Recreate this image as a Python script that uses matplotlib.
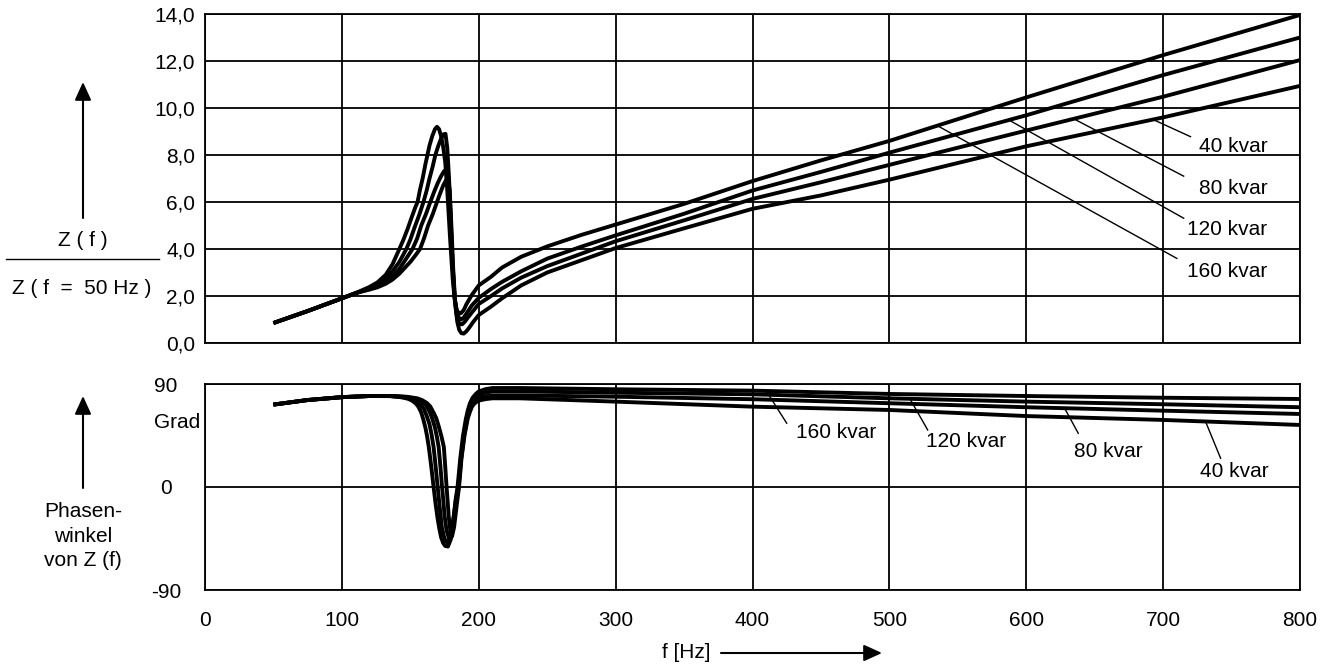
import matplotlib
matplotlib.use("Agg")
import matplotlib.pyplot as plt
from matplotlib.patches import FancyArrowPatch
from matplotlib.lines import Line2D

plt.rcParams['font.family'] = ['Liberation Sans', 'DejaVu Sans']

W, H = 1337, 666

# --- data: impedance ratio Z(f)/Z(50 Hz) ---
f_z160 = [50, 75, 100, 110, 120, 126, 132, 137, 142, 145, 148, 151, 153.5, 155.3, 157, 159, 161, 162.5, 164, 166, 168, 169.5, 171, 172.5, 174, 175.5, 177, 179, 181, 182.5, 184, 185.5, 187, 189, 191, 195, 200, 209, 217, 231, 250, 275, 300, 350, 400, 450, 500, 600, 700, 800]
z160 = [0.85, 1.36, 1.9, 2.12, 2.38, 2.58, 2.9, 3.35, 4.0, 4.4, 4.85, 5.35, 5.75, 6.0, 6.5, 7.0, 7.6, 8.0, 8.4, 8.8, 9.1, 9.2, 9.1, 8.8, 8.35, 7.7, 6.5, 4.5, 2.7, 1.8, 1.4, 1.25, 1.27, 1.4, 1.65, 2.05, 2.45, 2.82, 3.21, 3.67, 4.11, 4.6, 5.04, 5.92, 6.89, 7.77, 8.6, 10.45, 12.25, 13.96]

f_z120 = [50, 75, 100, 110, 120, 126, 132, 137, 142, 147.1, 150, 153, 156.5, 159.6, 162, 164, 166.3, 168.3, 170.5, 172.5, 174.2, 175.7, 177, 178.3, 179.5, 181, 182.5, 184, 185.5, 187, 189, 191, 195, 200, 209, 217, 231, 250, 275, 300, 350, 400, 450, 500, 600, 700, 800]
z120 = [0.85, 1.36, 1.9, 2.12, 2.34, 2.5, 2.75, 3.05, 3.45, 4.0, 4.4, 4.9, 5.45, 6.0, 6.5, 7.0, 7.5, 8.0, 8.4, 8.7, 8.88, 8.9, 8.3, 7.0, 5.3, 3.2, 1.9, 1.3, 1.07, 1.0, 1.08, 1.25, 1.6, 1.92, 2.3, 2.6, 3.05, 3.59, 4.1, 4.58, 5.5, 6.49, 7.28, 8.1, 9.69, 11.4, 13.0]

f_z80 = [50, 75, 100, 110, 120, 126, 132, 137, 142, 146, 151.6, 155, 158, 161.5, 164.6, 167.5, 170, 172.5, 174.5, 176.5, 177.8, 179, 180.3, 182, 183.5, 185, 186.5, 188, 190, 192, 195, 200, 209, 217, 231, 250, 275, 300, 350, 400, 450, 500, 600, 700, 800]
z80 = [0.85, 1.36, 1.9, 2.12, 2.3, 2.43, 2.62, 2.85, 3.15, 3.5, 4.0, 4.45, 5.0, 5.5, 6.0, 6.45, 6.8, 7.1, 7.3, 7.4, 7.0, 5.8, 4.0, 2.2, 1.3, 0.9, 0.8, 0.8, 0.92, 1.08, 1.3, 1.66, 2.0, 2.32, 2.78, 3.27, 3.8, 4.33, 5.22, 6.13, 6.84, 7.58, 9.04, 10.48, 12.04]

f_z40 = [50, 75, 100, 110, 120, 126, 132, 137, 142, 146, 150, 154, 157.1, 160, 163, 166.5, 169.5, 172, 174, 176, 177.5, 178.8, 180, 181.3, 182.8, 184.3, 185.8, 187.3, 189, 191, 193, 196, 200, 209, 217, 231, 250, 275, 300, 350, 400, 450, 500, 600, 700, 800]
z40 = [0.85, 1.36, 1.9, 2.12, 2.27, 2.37, 2.52, 2.7, 2.95, 3.2, 3.45, 3.75, 4.0, 4.45, 5.0, 5.5, 6.0, 6.4, 6.7, 6.92, 7.0, 6.5, 5.0, 3.2, 1.7, 0.9, 0.55, 0.42, 0.4, 0.5, 0.65, 0.9, 1.19, 1.55, 1.9, 2.45, 3.0, 3.52, 4.04, 4.88, 5.71, 6.28, 6.95, 8.37, 9.6, 10.94]

# --- data: phase angle of Z(f) in degrees ---
f_p160 = [50, 75, 100, 120, 135, 142, 148, 151, 154, 156, 158, 159.5, 161, 162.3, 163.5, 165.3, 167, 168.5, 170, 171.3, 172.5, 174, 175.5, 177.5, 179.5, 181.5, 183, 184.5, 186.5, 188.5, 190.5, 192, 193.5, 195.5, 198, 200, 205, 210, 230, 300, 400, 500, 600, 700, 800]
p160 = [72, 76, 78.5, 79.5, 79.4, 78.7, 77.2, 75.7, 73, 70, 65, 59, 52, 44, 35, 18, 0, -15, -28, -37, -44, -49, -51.5, -52, -46, -28, -12, 0, 25, 45, 59, 67, 73, 78, 81.5, 83.5, 85.5, 86.5, 86.5, 85.4, 84.2, 81.3, 79.5, 78, 76.9]

f_p120 = [50, 75, 100, 120, 135, 144, 150, 153, 156, 158, 160, 162, 164, 165.5, 167, 168.5, 170, 171.5, 173, 174.5, 175.5, 177.5, 179.5, 181.5, 183.2, 185, 187, 189, 191, 192.5, 194, 196, 198, 200, 205, 210, 230, 300, 400, 500, 600, 700, 800]
p120 = [72, 76, 78.5, 79.5, 79.5, 78.8, 77.5, 76, 74, 71.5, 68, 62, 55, 46, 35, 18, 0, -18, -35, -43, -46.5, -49, -44, -28, -12, 0, 25, 45, 59, 66, 71.5, 76, 79, 80.8, 82.5, 83.5, 83.5, 82.4, 81, 77.5, 74.6, 72.3, 69.7]

f_p80 = [50, 75, 100, 120, 135, 146, 152, 155.5, 159, 161.5, 164, 166, 168, 169.4, 170.7, 172, 173.2, 174.2, 175, 176.5, 178.5, 180, 182, 183.7, 185.3, 187.2, 189.3, 191.5, 193, 194.5, 196.5, 198, 200, 205, 210, 230, 300, 400, 500, 600, 700, 800]
p80 = [72, 76, 78.5, 79.5, 79.5, 78.8, 77.6, 76.3, 74, 71.5, 66, 60, 52, 44, 35, 18, 0, -13, -25, -38, -46, -44, -28, -12, 0, 25, 45, 59, 66, 71, 74.5, 76.5, 78, 79.3, 80, 80, 78.9, 76.7, 73.2, 69.7, 66.7, 63.8]

f_p40 = [50, 75, 100, 120, 135, 148, 155, 158.5, 162, 164.5, 167, 169, 171, 172.8, 174.5, 175.5, 176.5, 177.3, 178, 179.2, 180.5, 182, 184, 185.6, 187.4, 189.6, 192, 193.5, 195, 196.5, 198, 200, 205, 210, 230, 300, 400, 500, 600, 700, 800]
p40 = [72, 76, 78.5, 79.5, 79.5, 78.8, 77.5, 76, 73.5, 70.5, 65, 60, 52, 44, 35, 18, 0, -13, -25, -38, -43, -35, -15, 0, 25, 45, 60, 65.5, 70, 72.5, 74, 75.5, 76.8, 77.5, 77.5, 74.6, 70.2, 67.3, 62, 58.6, 54.2]

kvar_labels = ['160 kvar', '120 kvar', '80 kvar', '40 kvar']
x_ticks = list(range(0, 801, 100))
z_ticks = [0, 2, 4, 6, 8, 10, 12, 14]
z_ticklabels = ['0,0', '2,0', '4,0', '6,0', '8,0', '10,0', '12,0', '14,0']
p_ticks = [-90, 0, 90]
p_ticklabels = ['-90', '0', '90']

# label placement: (text x, text y, leader start, leader end)
z_notes = [(747, 3.03, (535, 9.25), (710, 3.6)),
           (747, 4.81, (587, 9.5), (715, 5.31)),
           (751, 6.58, (636, 9.5), (715, 7.1)),
           (751, 8.35, (693, 9.5), (720, 8.78))]
p_notes = [(461, 47.4, (410, 84.0), (425, 55.7)),
           (556, 39.6, (515, 77.1), (528, 49.8)),
           (660, 30.8, (628, 68.9), (638, 46.9)),
           (752, 13.4, (731, 57.2), (742, 25.1))]

fs = 15
lw_curve = 2.8
lw_grid = 1.3

fig = plt.figure(figsize=(W / 100, H / 100), dpi=100)
ax1 = fig.add_axes([205 / W, 1 - 343 / H, 1095 / W, 329 / H])
ax2 = fig.add_axes([205 / W, 1 - 590 / H, 1095 / W, 206 / H])

# top panel
for fx, zy in [(f_z160, z160), (f_z120, z120), (f_z80, z80), (f_z40, z40)]:
    ax1.plot(fx, zy, color='black', lw=lw_curve, solid_joinstyle='round', solid_capstyle='butt', zorder=3)
ax1.set_xlim(0, 800)
ax1.set_ylim(0, 14)
ax1.set_xticks(x_ticks)
ax1.set_yticks(z_ticks)
ax1.set_yticklabels(z_ticklabels)
ax1.tick_params(length=0, labelbottom=False, labelsize=fs, pad=7)
ax1.grid(True, color='black', lw=lw_grid)
for lab, (tx, ty, p0, p1) in zip(kvar_labels, z_notes):
    ax1.plot([p0[0], p1[0]], [p0[1], p1[1]], color='black', lw=1.0, zorder=4)
    ax1.text(tx, ty, lab, ha='center', va='center', fontsize=fs)

# bottom panel
for fx, py in [(f_p160, p160), (f_p120, p120), (f_p80, p80), (f_p40, p40)]:
    ax2.plot(fx, py, color='black', lw=lw_curve, solid_joinstyle='round', solid_capstyle='butt', zorder=3)
ax2.set_xlim(0, 800)
ax2.set_ylim(-90, 90)
ax2.set_xticks(x_ticks)
ax2.set_yticks(p_ticks)
ax2.set_yticklabels(p_ticklabels)
ax2.tick_params(axis='x', length=0, labelsize=fs, pad=15)
ax2.tick_params(axis='y', length=0, labelsize=fs, pad=28)
for t in ax2.get_yticklabels():
    t.set_horizontalalignment('center')
ax2.grid(True, color='black', lw=lw_grid)
for lab, (tx, ty, p0, p1) in zip(kvar_labels, p_notes):
    ax2.plot([p0[0], p1[0]], [p0[1], p1[1]], color='black', lw=1.0, zorder=4)
    ax2.text(tx, ty, lab, ha='center', va='center', fontsize=fs)

for ax in (ax1, ax2):
    for s in ax.spines.values():
        s.set_linewidth(lw_grid)


def fp(x, y):
    return (x / W, 1 - y / H)


def arrow(p0, p1):
    a = FancyArrowPatch(fp(*p0), fp(*p1), transform=fig.transFigure,
                        arrowstyle='-|>,head_length=0.55,head_width=0.25',
                        mutation_scale=20, lw=1.5, color='black', shrinkA=0, shrinkB=0)
    fig.add_artist(a)


arrow((83, 218), (83, 82))
arrow((83, 488), (83, 396))
arrow((721, 653), (882, 653))

fig.text(*fp(83, 240), 'Z ( f )', ha='center', va='center', fontsize=fs)
fig.add_artist(Line2D([6 / W, 159 / W], [1 - 259 / H, 1 - 259 / H], transform=fig.transFigure,
                      color='black', lw=1.0))
fig.text(*fp(82, 289), 'Z ( f  =  50 Hz )', ha='center', va='center', fontsize=fs)
fig.text(*fp(83, 536), 'Phasen-\nwinkel\nvon Z (f)', ha='center', va='center', fontsize=fs,
         linespacing=1.35)
fig.text(*fp(177, 423), 'Grad', ha='center', va='center', fontsize=fs)
fig.text(*fp(686, 653), 'f [Hz]', ha='center', va='center', fontsize=fs)

fig.savefig('out.png', dpi=100, facecolor='white')
